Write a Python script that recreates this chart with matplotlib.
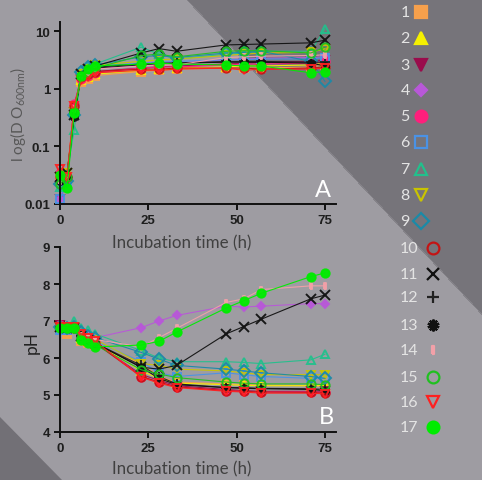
import numpy as np
import matplotlib
matplotlib.use("Agg")
import matplotlib.pyplot as plt

# ---------------- data ----------------
time_h = [0, 2, 4, 6, 8, 10, 23, 28, 33, 47, 52, 57, 71, 75]
labels = [str(i) for i in range(1, 18)]

od = {
    "1":  [0.030, 0.028, 0.45, 1.30, 1.50, 1.70, 2.0, 2.1, 2.2, 2.3, 2.3, 2.3, 2.4, 2.6],
    "2":  [0.028, 0.030, 0.50, 1.40, 1.60, 1.80, 2.1, 2.2, 2.3, 2.4, 2.5, 2.5, 2.6, 2.8],
    "3":  [0.012, 0.025, 0.40, 1.50, 1.80, 2.00, 2.3, 2.4, 2.5, 2.7, 2.8, 2.9, 3.0, 3.2],
    "4":  [0.012, 0.030, 0.45, 1.60, 2.00, 2.20, 2.6, 2.7, 2.8, 3.2, 3.3, 3.4, 3.5, 3.6],
    "5":  [0.035, 0.030, 0.55, 1.50, 1.70, 1.90, 2.3, 2.4, 2.4, 2.6, 2.7, 2.7, 2.8, 3.0],
    "6":  [0.012, 0.025, 0.40, 1.80, 2.20, 2.50, 2.8, 2.9, 3.0, 3.2, 3.2, 3.3, 3.3, 3.5],
    "7":  [0.020, 0.035, 0.19, 1.90, 2.40, 2.70, 5.3, 4.0, 3.3, 4.0, 4.2, 4.5, 4.5, 11.0],
    "8":  [0.030, 0.035, 0.40, 1.80, 2.20, 2.60, 3.0, 3.2, 3.3, 3.8, 4.0, 4.2, 4.3, 5.0],
    "9":  [0.022, 0.025, 0.35, 2.00, 2.40, 2.60, 3.6, 3.8, 3.5, 4.2, 4.3, 4.5, 3.0, 1.35],
    "10": [0.030, 0.030, 0.50, 1.60, 1.80, 2.00, 2.2, 2.2, 2.3, 2.3, 2.3, 2.2, 2.3, 2.4],
    "11": [0.030, 0.035, 0.35, 1.80, 2.20, 2.50, 4.2, 5.0, 4.5, 5.8, 5.9, 6.0, 6.3, 7.0],
    "12": [0.025, 0.030, 0.40, 1.70, 2.00, 2.30, 2.6, 2.7, 2.8, 3.0, 3.0, 3.0, 2.9, 2.9],
    "13": [0.025, 0.030, 0.32, 1.70, 2.10, 2.40, 2.7, 2.8, 2.8, 2.9, 2.9, 2.9, 2.8, 2.5],
    "14": [0.025, 0.030, 0.45, 1.60, 1.90, 2.20, 2.5, 2.6, 2.6, 3.5, 3.6, 3.7, 3.8, 3.9],
    "15": [0.022, 0.030, 0.40, 1.70, 2.00, 2.30, 3.8, 4.0, 3.6, 4.5, 4.6, 4.6, 4.2, 5.3],
    "16": [0.040, 0.030, 0.50, 1.40, 1.60, 1.90, 2.1, 2.1, 2.2, 2.3, 2.1, 2.2, 2.2, 2.3],
    "17": [0.032, 0.019, 0.38, 1.70, 2.20, 2.50, 2.7, 2.8, 2.7, 2.6, 2.5, 2.5, 1.9, 2.0],
}

ph = {
    "1":  [6.85, 6.65, 6.80, 6.45, 6.40, 6.35, 5.85, 5.50, 5.35, 5.30, 5.28, 5.27, 5.25, 5.25],
    "2":  [6.85, 6.80, 6.80, 6.55, 6.45, 6.40, 5.65, 5.45, 5.32, 5.28, 5.26, 5.25, 5.25, 5.25],
    "3":  [6.90, 6.85, 6.85, 6.60, 6.50, 6.40, 5.55, 5.40, 5.25, 5.15, 5.12, 5.10, 5.10, 5.10],
    "4":  [6.85, 6.85, 6.85, 6.70, 6.60, 6.55, 6.82, 7.00, 7.15, 7.40, 7.38, 7.40, 7.47, 7.47],
    "5":  [6.90, 6.85, 6.85, 6.65, 6.55, 6.45, 5.50, 5.35, 5.22, 5.12, 5.10, 5.08, 5.08, 5.07],
    "6":  [6.75, 6.75, 6.80, 6.60, 6.50, 6.45, 5.90, 5.60, 5.50, 5.60, 5.55, 5.50, 5.45, 5.45],
    "7":  [6.90, 6.85, 7.00, 6.80, 6.75, 6.65, 6.20, 6.00, 5.90, 5.90, 5.88, 5.85, 5.95, 6.10],
    "8":  [6.85, 6.80, 6.85, 6.60, 6.55, 6.50, 5.85, 5.80, 5.70, 5.65, 5.60, 5.55, 5.55, 5.55],
    "9":  [6.85, 6.80, 6.85, 6.70, 6.60, 6.55, 6.15, 5.97, 5.80, 5.70, 5.65, 5.60, 5.50, 5.45],
    "10": [6.85, 6.85, 6.80, 6.60, 6.50, 6.40, 5.50, 5.35, 5.22, 5.12, 5.10, 5.08, 5.07, 5.05],
    "11": [6.85, 6.80, 6.80, 6.60, 6.50, 6.40, 5.75, 5.70, 5.80, 6.65, 6.85, 7.05, 7.60, 7.70],
    "12": [6.85, 6.80, 6.80, 6.60, 6.50, 6.40, 5.80, 5.50, 5.30, 5.20, 5.20, 5.18, 5.17, 5.15],
    "13": [6.85, 6.80, 6.80, 6.60, 6.50, 6.40, 5.75, 5.45, 5.28, 5.20, 5.18, 5.17, 5.15, 5.12],
    "14": [6.85, 6.80, 6.80, 6.60, 6.55, 6.50, 6.30, 6.55, 6.80, 7.50, 7.60, 7.85, 7.95, 7.95],
    "15": [6.85, 6.80, 6.80, 6.55, 6.45, 6.35, 5.68, 5.57, 5.47, 5.35, 5.32, 5.30, 5.30, 5.28],
    "16": [6.85, 6.85, 6.85, 6.65, 6.55, 6.45, 5.48, 5.32, 5.20, 5.10, 5.08, 5.05, 5.05, 5.03],
    "17": [6.82, 6.82, 6.80, 6.50, 6.40, 6.30, 6.35, 6.45, 6.70, 7.35, 7.55, 7.75, 8.20, 8.30],
}

x_ticks = [0, 25, 50, 75]
od_ticks = [0.01, 0.1, 1, 10]
od_ticklabels = ["0.01", "0.1", "1", "10"]
ph_ticks = [4, 5, 6, 7, 8, 9]

# ---------------- styles ----------------
rect = [(-0.3, -1), (0.3, -1), (0.3, 1), (-0.3, 1), (-0.3, -1)]
styles = {
    "1":  dict(color="#f6a04c", marker="s", fill=True),
    "2":  dict(color="#f5f000", marker="^", fill=True),
    "3":  dict(color="#9a0c4c", marker="v", fill=True),
    "4":  dict(color="#b858d8", marker="D", fill=True, small=True),
    "5":  dict(color="#ff1f7c", marker="o", fill=True),
    "6":  dict(color="#4a92e6", marker="s", fill=False),
    "7":  dict(color="#22c08c", marker="^", fill=False),
    "8":  dict(color="#c9c400", marker="v", fill=False),
    "9":  dict(color="#1a8aa8", marker="D", fill=False),
    "10": dict(color="#c41414", marker="o", fill=False),
    "11": dict(color="#111111", marker="x", fill=True),
    "12": dict(color="#222222", marker="+", fill=True),
    "13": dict(color="#111111", marker=(10, 2, 0), fill=True),
    "14": dict(color="#f2a0a8", marker=rect, fill=True, small=True),
    "15": dict(color="#20c020", marker="o", fill=False),
    "16": dict(color="#ff2020", marker="v", fill=False),
    "17": dict(color="#00ec00", marker="o", fill=True),
}

W, H = 482, 481


def gray(v):
    return (min(v, 255) / 255, max(v - 2, 0) / 255, min(v + 4, 255) / 255)


fig = plt.figure(figsize=(W / 100, H / 100), dpi=100, facecolor=gray(132))

# ---------------- background: overlapping polygon bands ----------------
bgax = fig.add_axes([0, 0, 1, 1], zorder=-10)
bgax.set_xlim(0, W)
bgax.set_ylim(H, 0)
bgax.set_axis_off()
p0 = np.array([190.0, 0.0])
u = np.array([300.0, 320.0]); u /= np.linalg.norm(u)        # along the diagonal
n = np.array([320.0, -300.0]); n /= np.linalg.norm(n)       # towards upper-right
L, FAR = 1500, 1200


def band(a, b, v):
    pts = [p0 + n * a - u * L, p0 + n * a + u * L, p0 + n * b + u * L, p0 + n * b - u * L]
    bgax.fill([q[0] for q in pts], [q[1] for q in pts], color=gray(v), lw=0,
              antialiased=False)


# lower-left lighter side: farthest first, each band reaching to the far end
for k in range(700, -1, -6):
    band(-k, -FAR, max(158 - 0.1 * k, 126))
# upper-right darker side (first band overlaps the diagonal slightly)
for k in range(400, -1, -10):
    band(k - 1.5 if k == 0 else k, FAR, 118 - 0.035 * k)
# darker bottom-left corner
bgax.fill([0, 0, 62], [418, H, H], color=gray(114), lw=0)

label_font = dict(family="Lato", fontweight="normal")
tick_font = "Liberation Sans"


def style_axes(ax):
    ax.set_facecolor("none")
    for sp in ["top", "right"]:
        ax.spines[sp].set_visible(False)
    for sp in ["left", "bottom"]:
        ax.spines[sp].set_linewidth(1.4)
        ax.spines[sp].set_color("#111111")
    ax.tick_params(axis="both", direction="out", length=4, width=1.4,
                   color="#111111", labelcolor="#1e1e1e", labelsize=9.5, pad=3)
    ax.tick_params(axis="y", which="minor", length=0)
    for lab in ax.get_xticklabels() + ax.get_yticklabels():
        lab.set_fontfamily(tick_font)
        lab.set_fontweight("bold")


def draw_series(ax, data):
    for name in labels:
        st = styles[name]
        small = st.get("small", False)
        ms = 4.5 if small else 6
        if st["marker"] in ("x", "+"):
            ms = 6.5
        kw = dict(color=st["color"], lw=0.8, marker=st["marker"], ms=ms,
                  mec=st["color"], mew=1.4, clip_on=False, alpha=0.95)
        kw["mfc"] = st["color"] if st["fill"] else "none"
        ax.plot(time_h, data[name], **kw)


# ---------------- top panel (OD) ----------------
ax1 = fig.add_axes([60 / W, (H - 205) / H, 275.6 / W, 182 / H])
draw_series(ax1, od)
ax1.set_yscale("log")
ax1.set_ylim(0.01, 14.5)
ax1.set_xlim(0, 78)
ax1.set_xticks(x_ticks)
ax1.set_yticks(od_ticks)
ax1.set_yticklabels(od_ticklabels)
style_axes(ax1)
ax1.set_xlabel("Incubation time (h)", fontsize=12.2, color="#404040", **label_font)
ax1.xaxis.set_label_coords(0.443, -0.165)
ax1.set_ylabel("l og(D O$_{\\mathregular{600nm}}$)", fontsize=11, color="#585858", **label_font)
ax1.yaxis.set_label_coords(-0.115, 0.5)
ax1.text(0.954, 0.082, "A", transform=ax1.transAxes, ha="center", va="center",
         fontsize=17, color="white", **label_font)

# ---------------- bottom panel (pH) ----------------
ax2 = fig.add_axes([60 / W, (H - 433) / H, 275.6 / W, 185 / H])
draw_series(ax2, ph)
ax2.set_ylim(4, 9)
ax2.set_xlim(0, 78)
ax2.set_xticks(x_ticks)
ax2.set_yticks(ph_ticks)
style_axes(ax2)
ax2.set_xlabel("Incubation time (h)", fontsize=12.2, color="#404040", **label_font)
ax2.xaxis.set_label_coords(0.443, -0.155)
ax2.set_ylabel("pH", fontsize=12.5, color="#222222", **label_font)
ax2.yaxis.set_label_coords(-0.075, 0.49)
ax2.text(0.965, 0.086, "B", transform=ax2.transAxes, ha="center", va="center",
         fontsize=17, color="white", **label_font)

# ---------------- legend (right column) ----------------
lax = fig.add_axes([0, 0, 1, 1], zorder=5)
lax.set_xlim(0, W)
lax.set_ylim(H, 0)
lax.set_axis_off()
row_y = [13, 39, 66, 91, 117, 143, 170, 196, 222, 249, 275, 298, 326, 351, 378, 403, 428]
for i, name in enumerate(labels):
    st = styles[name]
    y = row_y[i]
    two = len(name) > 1
    nx = 409 if two else 405
    mx = 433 if two else 421
    lax.text(nx, y, name, ha="center", va="center", fontsize=11.5,
             color="#e4e4e4", **label_font)
    small = st.get("small", False)
    ms = 6 if small else 8.5
    kw = dict(color=st["color"], marker=st["marker"], ms=ms, mec=st["color"],
              mew=1.6, ls="none")
    kw["mfc"] = st["color"] if st["fill"] else "none"
    lax.plot([mx], [y], **kw)

fig.savefig("out.png", dpi=100, facecolor=fig.get_facecolor())
